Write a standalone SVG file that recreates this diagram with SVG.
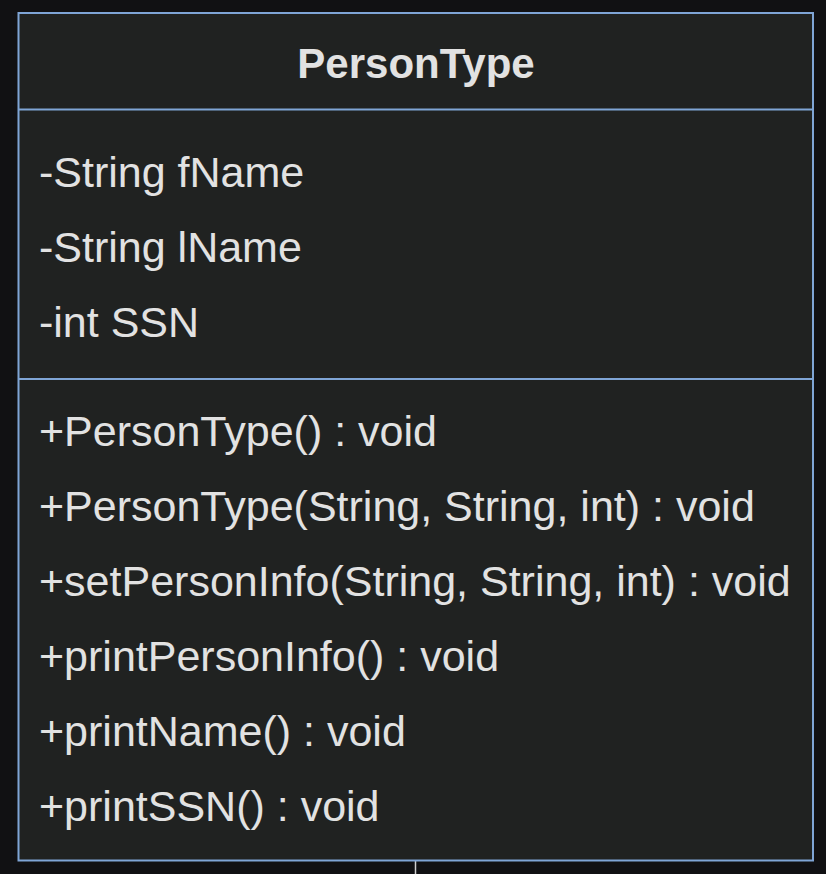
<svg xmlns="http://www.w3.org/2000/svg" width="826" height="874" viewBox="0 0 826 874">
<style>
.t{font-family:"Liberation Sans",Arial,Helvetica,sans-serif;font-size:43px;fill:#e2e2e2}
.b{font-weight:bold;font-size:42px}
.box{fill:#202221;stroke:#7fa5d6;stroke-width:2}
.div{stroke:#7fa5d6;stroke-width:2}
.edge{stroke:#cfcfcf;stroke-width:1.5;fill:none}
</style>
<rect x="0" y="0" width="826" height="874" fill="#111113"/>
<g id="connectors">
<line class="edge" x1="415.5" y1="861" x2="415.5" y2="874"/>
</g>
<g id="PersonType">
<rect class="box" x="18.5" y="13" width="794.5" height="847.5"/>
<line class="div" x1="18.5" y1="109.5" x2="813" y2="109.5"/>
<line class="div" x1="18.5" y1="379" x2="813" y2="379"/>
<text class="t b" x="416" y="78" text-anchor="middle">PersonType</text>
<text class="t" x="39" y="187">-String fName</text>
<text class="t" x="39" y="262">-String lName</text>
<text class="t" x="39" y="337">-int SSN</text>
<text class="t" x="39" y="446">+PersonType() : void</text>
<text class="t" x="39" y="521">+PersonType(String, String, int) : void</text>
<text class="t" x="39" y="596">+setPersonInfo(String, String, int) : void</text>
<text class="t" x="39" y="671">+printPersonInfo() : void</text>
<text class="t" x="39" y="746">+printName() : void</text>
<text class="t" x="39" y="821">+printSSN() : void</text>
</g>
</svg>
